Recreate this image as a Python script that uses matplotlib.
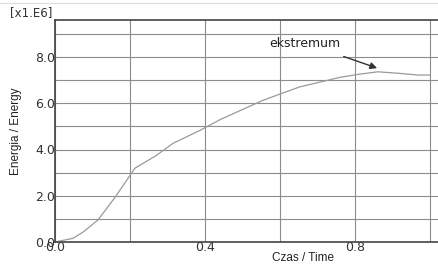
import matplotlib
matplotlib.use("Agg")
import matplotlib.pyplot as plt
from matplotlib.lines import Line2D

# values (energy in units of 1e6)
czas = [0.0, 0.048, 0.075, 0.115, 0.16, 0.213, 0.27, 0.315, 0.387, 0.44,
        0.555, 0.653, 0.76, 0.813, 0.861, 0.92, 0.968, 1.0]
energia = [0.0, 0.16, 0.43, 0.96, 1.93, 3.19, 3.74, 4.27, 4.83, 5.29,
           6.13, 6.71, 7.12, 7.26, 7.36, 7.29, 7.22, 7.22]

x_ticks = [0.0, 0.4, 0.8]
x_tick_labels = ["0.0", "0.4", "0.8"]
y_ticks = [0, 2, 4, 6, 8]
y_tick_labels = ["0.0", "2.0", "4.0", "6.0", "8.0"]

fig = plt.figure(figsize=(4.39, 2.66), dpi=100)
ax = fig.add_axes([55 / 439, 1 - 242 / 266, 384 / 439, 222 / 266])

ax.plot(czas, energia, color="#9a9a9a", lw=0.9)

ax.set_xlim(0, 1.024)
ax.set_ylim(0, 9.6)

ax.set_xticks(x_ticks)
ax.set_xticklabels(x_tick_labels)
ax.set_xticks([0.2, 0.6, 1.0], minor=True)
ax.set_yticks(y_ticks)
ax.set_yticklabels(y_tick_labels)
ax.set_yticks([1, 3, 5, 7, 9], minor=True)

ax.grid(True, which="both", color="#8c8c8c", lw=0.8)
ax.set_axisbelow(True)
ax.tick_params(which="both", length=0, labelsize=9, colors="#333333")
ax.tick_params(axis="x", pad=-1)
ax.tick_params(axis="y", pad=0)

for s in ["left", "bottom", "top"]:
    ax.spines[s].set_color("#444444")
    ax.spines[s].set_linewidth(1.2)
ax.spines["right"].set_visible(False)

ax.set_xlabel("Czas / Time", family="Liberation Sans", fontsize=8.5, color="#222222")
ax.xaxis.set_label_coords(0.645, -0.045)
ax.set_ylabel("Energia / Energy", family="Liberation Sans", fontsize=8.5, color="#222222")
ax.yaxis.set_label_coords(-0.085, 0.5)

fig.text(10 / 439, 1 - 13 / 266, "[x1.E6]", fontsize=8.5, color="#333333", va="center")

ax.annotate("ekstremum", xy=(0.859, 7.52), xytext=(0.667, 8.6),
            ha="center", va="center", fontsize=9, color="#222222",
            arrowprops=dict(arrowstyle="-|>", color="#333333", lw=1.0,
                            mutation_scale=10, shrinkA=9, shrinkB=0))

fig.add_artist(Line2D([0, 1], [1 - 3 / 266] * 2, color="#dddddd", lw=0.8))

fig.savefig("out.png", dpi=100)
